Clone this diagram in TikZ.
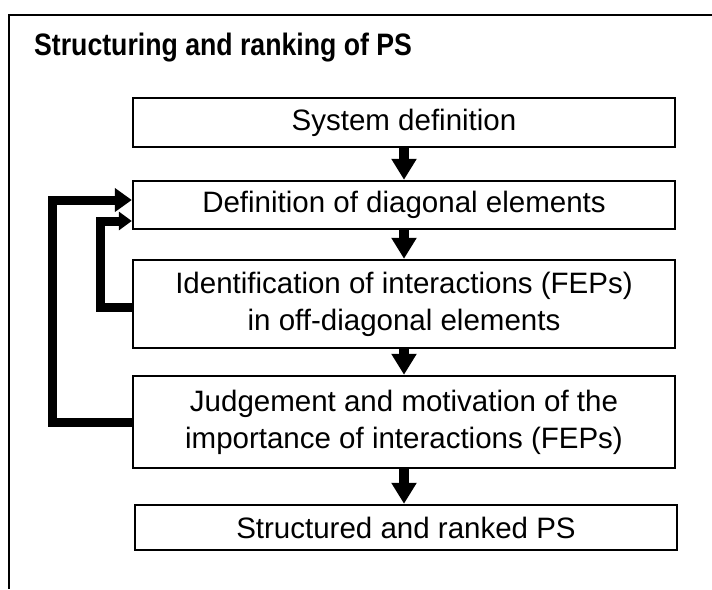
\documentclass[tikz,border=0pt]{standalone}
\usepackage{fontspec}
\setmainfont{Liberation Sans}
\usetikzlibrary{arrows.meta}
\begin{document}
\begin{tikzpicture}[x=1pt,y=1pt,
  stepbox/.style={draw,line width=2.4pt,minimum width=542pt,align=center,inner sep=0pt,
    font=\fontsize{29.5}{37}\selectfont},
  downarrow/.style={line width=10pt,-{Triangle[length=21pt,width=24pt]}},
  fbouter/.style={line width=9pt,-{Triangle[length=17pt,width=23pt]}},
  fbinner/.style={line width=9pt,-{Triangle[length=13pt,width=18pt]}}]
\useasboundingbox (0,0) rectangle (712,-589);
\draw[line width=2pt] (712,-15) -- (9,-15) -- (9,-589);
\node[anchor=base west,font=\bfseries\fontsize{31}{36}\selectfont,inner sep=0pt] (title) at (34,-55) {\scalebox{0.86}[1]{Structuring and ranking of PS}};
\node[stepbox,minimum height=49pt] (b1) at (404,-122.5) {System definition};
\node[stepbox,minimum height=48pt] (b2) at (404,-205) {Definition of diagonal elements};
\node[stepbox,minimum height=88pt] (b3) at (404,-304) {Identification of interactions (FEPs)\\in off-diagonal elements};
\node[stepbox,minimum height=92pt] (b4) at (404,-422) {Judgement and motivation of the\\importance of interactions (FEPs)};
\node[stepbox,minimum height=45pt] (b5) at (406,-527.5) {Structured and ranked PS};
\draw[downarrow] (b1.south) -- (b2.north);
\draw[downarrow] (b2.south) -- (b3.north);
\draw[downarrow] (b3.south) -- (b4.north);
\draw[downarrow] (b4.south) -- (b4.south |- b5.north);
\draw[fbouter] (b4.west) -- ++(-79,0) |- ([yshift=5pt]b2.west);
\draw[fbinner] ([yshift=-3pt]b3.west) -- ++(-31,0) |- ([yshift=-16pt]b2.west);
\end{tikzpicture}
\end{document}
